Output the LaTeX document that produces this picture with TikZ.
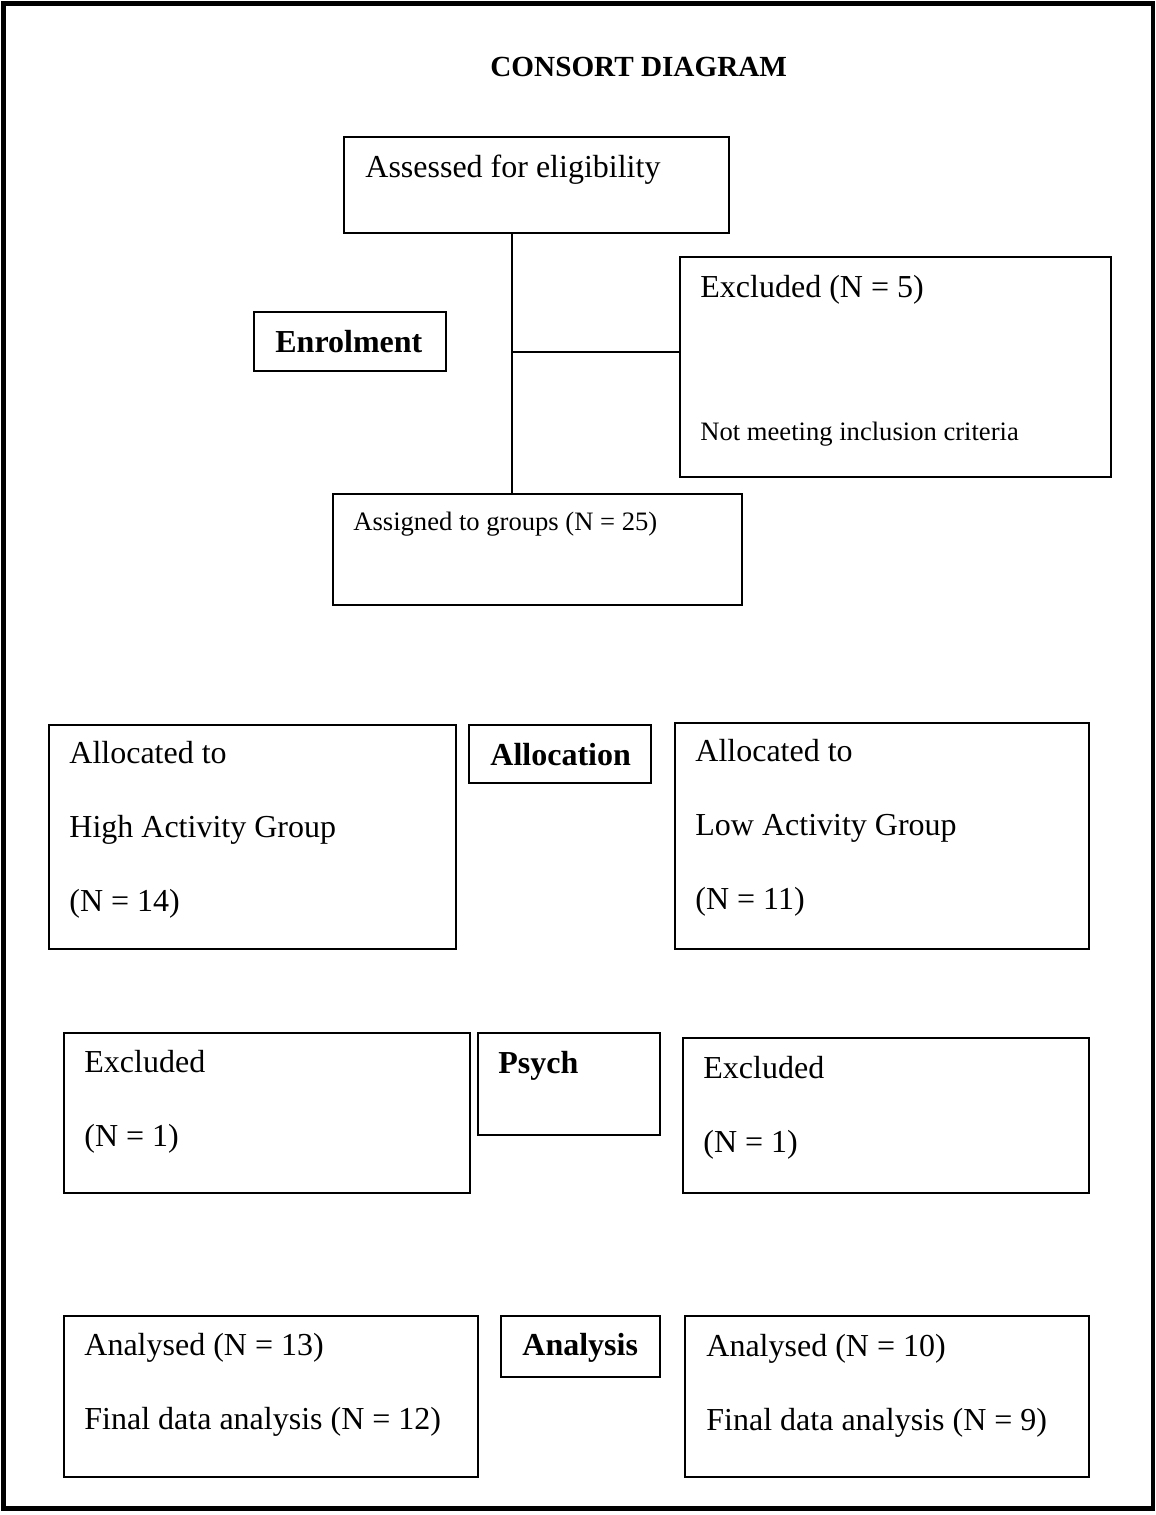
\documentclass[tikz,border=0pt]{standalone}
\usepackage{fontspec}
\setmainfont{Liberation Serif}
\usetikzlibrary{fit}

\tikzset{
  box/.style={draw, line width=1pt, inner sep=0pt, rectangle},
  txt/.style={anchor=base west, inner sep=0pt, align=left, font=\fontsize{16}{37}\selectfont},
  small/.style={txt, font=\fontsize{13.3}{16}\selectfont},
  head/.style={txt, font=\bfseries\fontsize{16}{19}\selectfont},
}

\begin{document}
\begin{tikzpicture}[x=0.5pt, y=-0.5pt]
\useasboundingbox (0,0) rectangle (1156,1515);
\draw[line width=2.2pt] (3.5,3.5) rectangle (1153,1508.5);

\node[head, font=\bfseries\fontsize{14.6}{17}\selectfont] (title) at (490,76) {CONSORT DIAGRAM};

% enrolment
\node[box, fit={(344,137) (729,233)}] (assess) {};
\node[txt] (assesst) at (365,177) {Assessed for eligibility};

\node[box, fit={(680,257) (1111,477)}] (excl) {};
\node[txt] (exclt) at (700,297) {Excluded (N = 5)};
\node[small] (exclr) at (700,440) {Not meeting inclusion criteria};

\node[box, fit={(254,312) (446,371)}] (enrol) {};
\node[head] (enrolt) at (275,352) {Enrolment};

\node[box, fit={(333,494) (742,605)}] (assign) {};
\node[small] (assignt) at (353,530) {Assigned to groups (N = 25)};

\coordinate (trunk) at (512,352);
\draw[line width=1pt] (trunk |- assess.south) -- (trunk |- assign.north);
\draw[line width=1pt] (trunk) -- (trunk -| excl.west);

% allocation (multi-line texts sit on their last baseline)
\node[box, fit={(49,725) (456,949)}] (high) {};
\node[txt] (hight) at (69,911) {Allocated to\\High Activity Group\\(N = 14)};

\node[box, fit={(469,725) (651,783)}] (alloc) {};
\node[head] (alloct) at (490,765) {Allocation};

\node[box, fit={(675,723) (1089,949)}] (low) {};
\node[txt] (lowt) at (695,909) {Allocated to\\Low Activity Group\\(N = 11)};

% psych
\node[box, fit={(64,1033) (470,1193)}] (exhigh) {};
\node[txt] (exhight) at (84,1146) {Excluded\\(N = 1)};

\node[box, fit={(478,1033) (660,1135)}] (psych) {};
\node[head] (psycht) at (498,1073) {Psych};

\node[box, fit={(683,1038) (1089,1193)}] (exlow) {};
\node[txt] (exlowt) at (703,1152) {Excluded\\(N = 1)};

% analysis
\node[box, fit={(64,1316) (478,1477)}] (anhigh) {};
\node[txt] (anhight) at (84,1429) {Analysed (N = 13)\\Final data analysis (N = 12)};

\node[box, fit={(501,1316) (660,1377)}] (anal) {};
\node[head] (analt) at (522,1355) {Analysis};

\node[box, fit={(685,1316) (1089,1477)}] (anlow) {};
\node[txt] (anlowt) at (706,1430) {Analysed (N = 10)\\Final data analysis (N = 9)};
\end{tikzpicture}
\end{document}
